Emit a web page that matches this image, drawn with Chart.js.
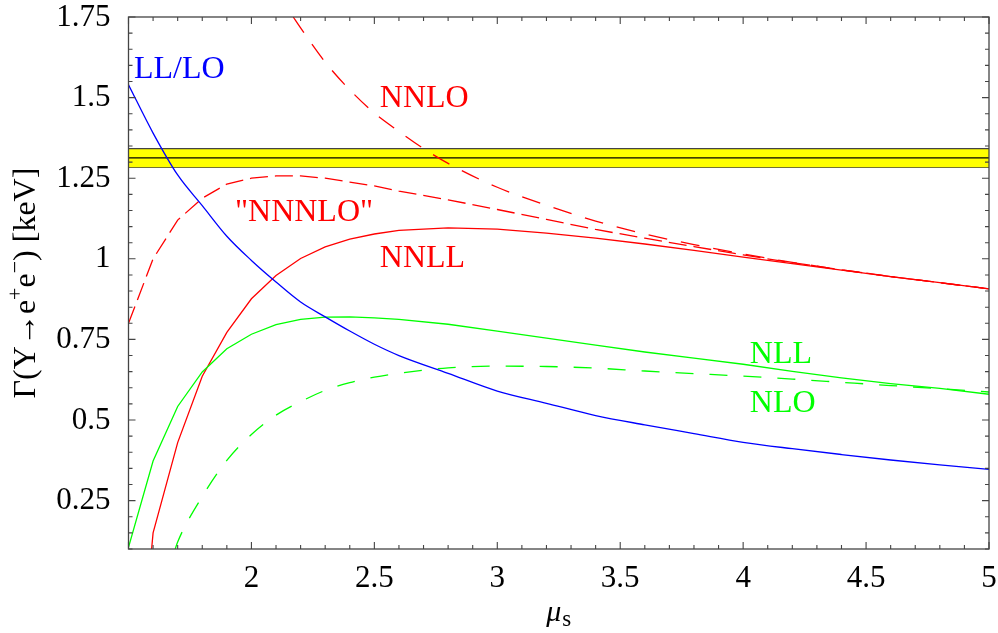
<!DOCTYPE html>
<html>
<head>
<meta charset="utf-8">
<script src="https://cdn.jsdelivr.net/npm/chart.js@4.4.1/dist/chart.umd.min.js"></script>
<style>
  html, body { margin: 0; padding: 0; background: #fff; }
</style>
</head>
<body>
<canvas id="gammaChart" width="998" height="633"></canvas>
<script>
// =========================
// DATA
// =========================
const muGrid = [1.5, 1.6, 1.7, 1.8, 1.9, 2.0, 2.1, 2.2, 2.3, 2.4, 2.5, 2.6,
                2.8, 3.0, 3.2, 3.4, 3.6, 3.8, 4.0, 4.2, 4.4, 4.6, 4.8, 5.0];

const llLo = [1.54, 1.39, 1.26, 1.165, 1.07, 0.995, 0.928, 0.866, 0.82, 0.776, 0.735, 0.70,
              0.645, 0.59, 0.552, 0.514, 0.485, 0.458, 0.431, 0.411, 0.393, 0.376, 0.361, 0.347];

const nll = [0.105, 0.373, 0.542, 0.649, 0.721, 0.766, 0.796, 0.812, 0.819, 0.820, 0.817, 0.812,
             0.797, 0.776, 0.754, 0.732, 0.711, 0.692, 0.673, 0.651, 0.631, 0.613, 0.598, 0.580];

const nloMu = [1.69, 1.7, 1.8, 1.9, 2.0, 2.1, 2.2, 2.3, 2.4, 2.5, 2.6,
               2.8, 3.0, 3.2, 3.4, 3.6, 3.8, 4.0, 4.2, 4.4, 4.6, 4.8, 5.0];
const nlo = [0.1, 0.122, 0.263, 0.375, 0.455, 0.515, 0.557, 0.592, 0.616, 0.633, 0.645,
             0.662, 0.667, 0.666, 0.661, 0.652, 0.644, 0.636, 0.627, 0.617, 0.607, 0.597, 0.587];

const nnllMu = [1.594, 1.6, 1.7, 1.8, 1.9, 2.0, 2.1, 2.2, 2.3, 2.4, 2.5, 2.6,
                2.8, 3.0, 3.2, 3.4, 3.6, 3.8, 4.0, 4.2, 4.4, 4.6, 4.8, 5.0];
const nnll = [0.1, 0.15, 0.43, 0.636, 0.772, 0.876, 0.948, 1.001, 1.037, 1.061, 1.077, 1.088,
              1.096, 1.092, 1.080, 1.064, 1.046, 1.026, 1.005, 0.985, 0.965, 0.945, 0.926, 0.907];

const nnloMu = [2.17, 2.2, 2.3, 2.4, 2.5, 2.6, 2.7, 2.8, 3.0, 3.2, 3.4, 3.6, 3.8, 4.0, 4.2, 4.4, 4.6, 4.8, 5.0];
const nnlo = [1.75, 1.716, 1.61, 1.524, 1.452, 1.395, 1.342, 1.296, 1.222, 1.166, 1.117, 1.077,
              1.044, 1.015, 0.989, 0.966, 0.945, 0.926, 0.907];

const nnnlo = [0.80, 1.00, 1.12, 1.188, 1.232, 1.25, 1.257, 1.257, 1.25, 1.238, 1.226, 1.21,
               1.183, 1.153, 1.122, 1.091, 1.064, 1.038, 1.012, 0.988, 0.966, 0.945, 0.926, 0.907];

// experimental band
const bandMu = [1.5, 5.0];
const bandLow = 1.284;
const bandMid = 1.313;
const bandHigh = 1.342;

const xTickValues = [2, 2.5, 3, 3.5, 4, 4.5, 5];
const xTickLabels = ['2', '2.5', '3', '3.5', '4', '4.5', '5'];
const yTickValues = [0.25, 0.5, 0.75, 1, 1.25, 1.5, 1.75];
const yTickLabels = ['0.25', '0.5', '0.75', '1', '1.25', '1.5', '1.75'];

const curveLabels = ['LL/LO', 'NNLO', '"NNNLO"', 'NNLL', 'NLL', 'NLO'];


// =========================
// STYLE
// =========================
const BLUE = '#0000ff';
const RED = '#ff0000';
const GREEN = '#00ff00';
const SERIF = '"Liberation Serif", "Times New Roman", serif';

// where each curve name sits (data coords, left/baseline)
const labelSpots = [
  { x: 1.522, y: 1.562, color: BLUE },
  { x: 2.522, y: 1.472, color: RED },
  { x: 1.933, y: 1.116, color: RED },
  { x: 2.522, y: 0.976, color: RED },
  { x: 4.027, y: 0.676, color: GREEN },
  { x: 4.027, y: 0.524, color: GREEN }
];

function pts(xs, ys) {
  return xs.map((x, i) => ({ x: x, y: ys[i] }));
}

function flat(xs, v) {
  return xs.map(x => ({ x: x, y: v }));
}

function curve(label, xs, ys, color, dash, smooth) {
  return {
    label: label,
    data: pts(xs, ys),
    borderColor: color,
    borderWidth: 1.3,
    borderDash: dash || [],
    pointRadius: 0,
    showLine: true,
    tension: 0,
    cubicInterpolationMode: smooth ? 'monotone' : 'default',
    fill: false,
    order: 1
  };
}


// =========================
// FRAME, TICKS, TEXT
// =========================
const framePlugin = {
  id: 'mmaFrame',
  afterDatasetsDraw(chart) {
    const { ctx, chartArea: a, scales: { x, y } } = chart;
    ctx.save();

    // frame
    ctx.strokeStyle = '#444';
    ctx.lineWidth = 1.3;
    ctx.strokeRect(a.left, a.top, a.right - a.left, a.bottom - a.top);

    // inward ticks on all four sides
    ctx.beginPath();
    for (let i = 15; i <= 50; i++) {
      const px = x.getPixelForValue(i / 10);
      const len = i % 5 === 0 ? 7 : 4;
      ctx.moveTo(px, a.bottom); ctx.lineTo(px, a.bottom - len);
      ctx.moveTo(px, a.top); ctx.lineTo(px, a.top + len);
    }
    for (let i = 2; i <= 35; i++) {
      const py = y.getPixelForValue(i / 20);
      const len = i % 5 === 0 ? 7 : 4;
      ctx.moveTo(a.left, py); ctx.lineTo(a.left + len, py);
      ctx.moveTo(a.right, py); ctx.lineTo(a.right - len, py);
    }
    ctx.lineWidth = 1.1;
    ctx.stroke();

    // tick labels
    ctx.fillStyle = '#000';
    ctx.font = '31px ' + SERIF;
    ctx.textBaseline = 'alphabetic';
    ctx.textAlign = 'center';
    xTickValues.forEach((v, i) => {
      ctx.fillText(xTickLabels[i], x.getPixelForValue(v), a.bottom + 38);
    });
    ctx.textAlign = 'right';
    yTickValues.forEach((v, i) => {
      ctx.fillText(yTickLabels[i], a.left - 18, y.getPixelForValue(v) + 8.5);
    });

    // curve names
    ctx.font = '32px ' + SERIF;
    ctx.textAlign = 'left';
    curveLabels.forEach((t, i) => {
      const s = labelSpots[i];
      ctx.fillStyle = s.color;
      ctx.fillText(t, x.getPixelForValue(s.x), y.getPixelForValue(s.y));
    });

    // x title: mu_s
    ctx.fillStyle = '#000';
    ctx.font = 'italic 30px ' + SERIF;
    const muW = ctx.measureText('μ').width;
    ctx.font = '23px ' + SERIF;
    const sW = ctx.measureText('s').width;
    const cx = (a.left + a.right) / 2;
    const x0 = cx - (muW + sW + 1) / 2;
    ctx.font = 'italic 30px ' + SERIF;
    ctx.fillText('μ', x0, 621);
    ctx.font = '23px ' + SERIF;
    ctx.fillText('s', x0 + muW + 1, 626);

    // y title, rotated, with raised charges
    const parts = [
      { t: 'Γ(Υ→e', size: 32, rise: 0 },
      { t: '+', size: 22, rise: 13 },
      { t: 'e', size: 32, rise: 0 },
      { t: '−', size: 22, rise: 13 },
      { t: ') [keV]', size: 32, rise: 0 }
    ];
    let total = 0;
    parts.forEach(p => {
      ctx.font = p.size + 'px ' + SERIF;
      p.w = ctx.measureText(p.t).width;
      total += p.w;
    });
    ctx.translate(35, (a.top + a.bottom) / 2);
    ctx.rotate(-Math.PI / 2);
    let pos = -total / 2;
    parts.forEach(p => {
      ctx.font = p.size + 'px ' + SERIF;
      ctx.fillText(p.t, pos, -p.rise);
      pos += p.w;
    });

    ctx.restore();
  }
};


// =========================
// RENDER CHART
// =========================
const ctx = document.getElementById('gammaChart');

new Chart(ctx, {
  type: 'scatter',
  data: {
    datasets: [
      curve('LL/LO', muGrid, llLo, BLUE, null, true),
      curve('NLL', muGrid, nll, GREEN),
      curve('NLO', nloMu, nlo, GREEN, [18, 16], true),
      curve('NNLL', nnllMu, nnll, RED),
      curve('NNLO', nnloMu, nnlo, RED, [19, 14], true),
      curve('"NNNLO"', muGrid, nnnlo, RED, [18, 7]),
      {
        label: 'band mid',
        data: flat(bandMu, bandMid),
        borderColor: '#000',
        borderWidth: 1.3,
        pointRadius: 0,
        showLine: true,
        fill: false,
        order: 5
      },
      {
        label: 'band high',
        data: flat(bandMu, bandHigh),
        borderColor: '#444',
        borderWidth: 1.3,
        backgroundColor: '#ffff00',
        pointRadius: 0,
        showLine: true,
        fill: '+1',
        order: 6
      },
      {
        label: 'band low',
        data: flat(bandMu, bandLow),
        borderColor: '#444',
        borderWidth: 1.3,
        pointRadius: 0,
        showLine: true,
        fill: false,
        order: 7
      }
    ]
  },
  options: {
    responsive: false,
    animation: false,
    devicePixelRatio: 1,
    layout: { padding: { left: 0, right: 9, top: 17, bottom: 0 } },
    plugins: {
      legend: { display: false },
      tooltip: { enabled: false }
    },
    scales: {
      x: {
        type: 'linear',
        min: 1.5,
        max: 5,
        grid: { display: false, drawTicks: false },
        border: { display: false },
        ticks: { display: false },
        afterFit: s => { s.height = 84; }
      },
      y: {
        type: 'linear',
        min: 0.1,
        max: 1.75,
        grid: { display: false, drawTicks: false },
        border: { display: false },
        ticks: { display: false },
        afterFit: s => { s.width = 128.5; }
      }
    }
  },
  plugins: [framePlugin]
});
</script>
</body>
</html>
